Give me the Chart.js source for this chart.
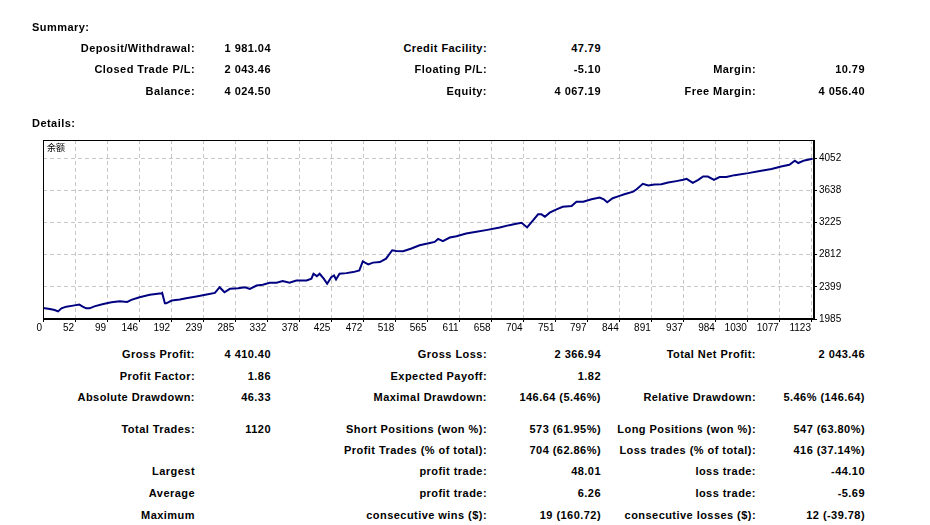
<!DOCTYPE html>
<html>
<head>
<meta charset="utf-8">
<script src="https://cdn.jsdelivr.net/npm/chart.js@4.4.0/dist/chart.umd.min.js"></script>
<style>
  body { margin: 0; background: #fff; width: 930px; height: 525px; position: relative; overflow: hidden;
         font: bold 11px "Liberation Sans", Arial, sans-serif; color: #000; }
  .t { position: absolute; line-height: 14px; white-space: nowrap; letter-spacing: 0.45px; }
  #chartBox { position: absolute; left: 0; top: 130px; width: 930px; height: 215px; }
  #balLabel { position: absolute; left: 47px; top: 142px; font: normal 9px "Noto Sans CJK SC", sans-serif; line-height: 12px; }
</style>
</head>
<body>
<div id="chartBox"><canvas id="myChart" width="930" height="215"></canvas></div>
<div id="balLabel">余额</div>
<script>
// balance curve (trade number -> balance)
const tradeNo = [0,10,17,22,27,34,44,53,58,63,
    68,75,88,100,112,123,129,141,156,173,
    174,178,180,188,200,209,224,239,251,258,
    265,273,285,295,302,312,321,331,341,350,
    360,370,385,392,395,400,404,410,415,421,
    425,428,433,443,453,462,467,475,482,492,
    501,510,516,526,538,550,565,572,577,584,
    594,604,618,633,647,667,681,691,699,707,
    716,723,728,733,740,750,759,772,779,789,
    801,813,819,824,832,842,849,862,867,876,
    884,893,903,913,925,935,940,949,957,964,
    971,980,988,998,1010,1030,1049,1064,1078,1090,
    1098,1103,1112,1124];
const balance = [2127,2114,2101,2083,2122,2144,2157,2170,2144,2122,
    2122,2148,2179,2200,2213,2205,2231,2265,2296,2316,
    2321,2187,2187,2222,2235,2252,2274,2299,2321,2394,
    2329,2373,2381,2394,2373,2416,2425,2451,2451,2472,
    2451,2481,2481,2503,2567,2536,2567,2503,2438,2523,
    2545,2494,2567,2575,2588,2610,2726,2688,2710,2717,
    2761,2869,2860,2856,2891,2934,2963,2976,3015,2985,
    3033,3050,3085,3106,3128,3163,3192,3209,3222,3163,
    3257,3331,3331,3300,3352,3395,3429,3438,3494,3494,
    3525,3546,3525,3486,3538,3568,3590,3623,3654,3723,
    3701,3714,3719,3740,3758,3775,3788,3736,3775,3817,
    3817,3775,3810,3810,3835,3861,3891,3913,3947,3969,
    4020,3991,4024,4046];

const xTickLabels = ['0','52','99','146','192','239','285','332','378','425','472','518','565',
    '611','658','704','751','797','844','891','937','984','1030','1077','1123'];
const yTickLabels = ['1985','2399','2812','3225','3638','4052'];

const summaryRows = [
    ['Deposit/Withdrawal:', '1 981.04', 'Credit Facility:', '47.79', '', ''],
    ['Closed Trade P/L:', '2 043.46', 'Floating P/L:', '-5.10', 'Margin:', '10.79'],
    ['Balance:', '4 024.50', 'Equity:', '4 067.19', 'Free Margin:', '4 056.40']
];
const detailRows = [
    ['Gross Profit:', '4 410.40', 'Gross Loss:', '2 366.94', 'Total Net Profit:', '2 043.46'],
    ['Profit Factor:', '1.86', 'Expected Payoff:', '1.82', '', ''],
    ['Absolute Drawdown:', '46.33', 'Maximal Drawdown:', '146.64 (5.46%)', 'Relative Drawdown:', '5.46% (146.64)'],
    ['Total Trades:', '1120', 'Short Positions (won %):', '573 (61.95%)', 'Long Positions (won %):', '547 (63.80%)'],
    ['', '', 'Profit Trades (% of total):', '704 (62.86%)', 'Loss trades (% of total):', '416 (37.14%)'],
    ['Largest', '', 'profit trade:', '48.01', 'loss trade:', '-44.10'],
    ['Average', '', 'profit trade:', '6.26', 'loss trade:', '-5.69'],
    ['Maximum', '', 'consecutive wins ($):', '19 (160.72)', 'consecutive losses ($):', '12 (-39.78)']
];

const colRight = [195, 271, 487, 601, 756, 865];
const summaryY = [48, 69, 91];
const detailY = [354, 376, 397, 429, 450, 471, 493, 515];

const put = (text, x, y, right) => {
    const d = document.createElement('div');
    d.className = 't';
    d.textContent = text;
    if (right) d.style.right = (930 - x) + 'px';
    else d.style.left = x + 'px';
    d.style.top = (y - 7) + 'px';
    document.body.appendChild(d);
};

put('Summary:', 32, 27, false);
put('Details:', 32, 123, false);
summaryRows.forEach((row, r) => row.forEach((txt, c) => { if (txt) put(txt, colRight[c], summaryY[r], true); }));
detailRows.forEach((row, r) => row.forEach((txt, c) => { if (txt) put(txt, colRight[c], detailY[r], true); }));

// box round the plot area
const frame = {
    id: 'frame',
    afterDraw(chart) {
        const {ctx, chartArea: a} = chart;
        ctx.save();
        ctx.strokeStyle = '#000';
        ctx.lineWidth = 1;
        ctx.strokeRect(Math.round(a.left) + 0.5, Math.round(a.top) + 0.5,
            Math.round(a.right - a.left) - 1, Math.round(a.bottom - a.top) - 1);
        ctx.restore();
    }
};

const axisFont = {family: '"Liberation Sans", Arial, sans-serif', size: 10};
const xStep = Number(xTickLabels[xTickLabels.length - 1]) / (xTickLabels.length - 1);
const yFirst = Number(yTickLabels[0]);
const yStep = (Number(yTickLabels[yTickLabels.length - 1]) - yFirst) / (yTickLabels.length - 1);

const config = {
    type: 'line',
    data: {
        datasets: [{
            label: '余额',
            data: tradeNo.map((t, i) => ({x: t, y: balance[i]})),
            borderColor: '#000080',
            borderWidth: 2,
            pointRadius: 0,
            tension: 0,
            fill: false
        }]
    },
    options: {
        responsive: false,
        animation: false,
        devicePixelRatio: 1,
        layout: {padding: {left: 43, top: 10, right: 0, bottom: 0}},
        plugins: {legend: {display: false}, tooltip: {enabled: false}},
        scales: {
            x: {
                type: 'linear',
                min: 0,
                max: 1126,
                afterBuildTicks: s => { s.ticks = xTickLabels.map((l, i) => ({value: i * xStep})); },
                afterFit: s => { s.height = 26; },
                grid: {color: '#c8c8c8', tickColor: '#000', tickLength: 3, tickBorderDash: []},
                border: {display: true, color: '#000', dash: [4, 3]},
                ticks: {
                    autoSkip: false, maxRotation: 0, align: 'end', labelOffset: -1, padding: 0,
                    color: '#000', font: axisFont,
                    callback: (v, i) => xTickLabels[i]
                }
            },
            y: {
                type: 'linear',
                position: 'right',
                min: 1985,
                max: 4287,
                afterBuildTicks: s => { s.ticks = yTickLabels.map((l, i) => ({value: yFirst + i * yStep})); },
                afterFit: s => { s.width = 116; },
                grid: {color: '#c8c8c8', tickColor: '#000', tickLength: 3, tickBorderDash: []},
                border: {display: true, color: '#000', dash: [4, 3]},
                ticks: {
                    padding: 2, color: '#000', font: axisFont,
                    callback: (v, i) => yTickLabels[i]
                }
            }
        }
    },
    plugins: [frame]
};

const myChart = new Chart(document.getElementById('myChart'), config);
</script>
</body>
</html>
